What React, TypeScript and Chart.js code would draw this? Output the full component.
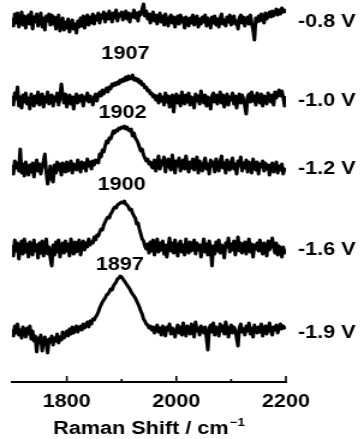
import React, { useEffect, useRef } from "react";
import { Chart, registerables } from "chart.js";

Chart.register(...registerables);

// Raman shift grid (cm^-1)
const SHIFT_START = 1700;
const SHIFT_STEP = 2.5;
const POINTS = 201;
const shifts: number[] = Array.from({ length: POINTS }, (_, i) => SHIFT_START + SHIFT_STEP * i);

// Potentials (series names)
const seriesLabels = ["-0.8 V", "-1.0 V", "-1.2 V", "-1.6 V", "-1.9 V"];

// Intensities (a.u.), one value per grid point
const v08 = [
  3, -5, 7, -2, 8, -6, 1, 9, -4, 5,
  -7, 2, 6, -3, 9, -8, 4, -1, 7, -5,
  2, 8, -6, 3, -9, 5, 0, 7, -4, 6,
  -3, 4, -8, 1, 6, -10, -2, 3, -9, -1,
  -7, 2, -11, -4, 1, -8, -3, -12, 0, -6,
  3, -5, 5, -7, 2, 6, -4, 4, -2, 7,
  -3, 5, 1, 8, -2, 6, 3, 9, -1, 7,
  2, 10, 4, -1, 8, 3, 11, 0, 7, 5,
  9, 1, 6, 10, 2, 8, -1, 7, 4, 11,
  3, 8, 0, 9, 6, 12, 17, 5, 10, 2,
  7, -2, 5, 9, 0, 6, -3, 4, 8, -1,
  5, -4, 7, 1, -5, 3, 6, -2, 4, -6,
  2, 5, -3, 6, -1, 3, -7, 4, 0, -5,
  3, -2, 6, -4, 1, 5, -6, 2, -3, 4,
  -1, 6, -5, 3, 0, -7, 4, -2, 5, -4,
  2, -6, 3, 7, -3, 1, -5, 4, -1, 6,
  -4, 2, 5, -3, 0, -8, 3, 6, -2, 4,
  -5, 1, 4, -3, 6, -2, -9, -19, 3, -1,
  5, 0, 7, 3, -2, 8, 2, 6, 9, 4,
  10, 5, 8, 12, 6, 11, 7, 13, 9, 11,
  8,
];
const v10 = [
  4, -5, 7, 1, 13, -6, 3, -8, 5, -2,
  7, -4, 2, -9, 6, 0, -6, 4, -3, 8,
  -5, 2, 6, -7, 3, -2, 8, -4, 1, 5,
  -6, 3, -1, 7, -5, 2, 16, 4, -3, 6,
  -7, 1, 5, -4, 3, -9, 2, 6, -3, 4,
  -1, 5, -6, 3, 0, 7, -2, 4, 1, -5,
  3, 6, -1, 5, 8, 4, 10, 6, 9, 12,
  8, 13, 11, 16, 14, 17, 15, 18, 16, 20,
  18, 21, 19, 23, 20, 24, 21, 22, 25, 20,
  22, 19, 21, 17, 19, 15, 16, 12, 13, 9,
  10, 6, 7, 3, 5, 0, 4, -3, 6, -1,
  3, -5, 7, -2, 4, -7, 2, 5, -12, 1,
  6, -3, 4, -6, 8, 0, -4, 5, -2, 7,
  -5, 3, 1, -8, 6, -1, 4, -4, 9, 2,
  -3, 5, -6, 3, 0, -9, 4, 7, -2, 5,
  -4, 2, 8, -3, 5, -7, 1, 6, -5, 3,
  0, 7, -4, 4, -8, 2, 6, -3, 5, 1,
  -6, -14, 3, 6, -2, 8, -1, 4, -5, 7,
  2, -3, 6, -6, 4, 1, -4, 7, 3, -2,
  5, -5, 8, 2, 6, 10, 4, 9, 3, -6,
  4,
];
const v12 = [
  3, -6, 7, 0, 5, -3, 19, -5, 4, -8,
  6, -2, -7, 3, -4, 5, -9, 2, 8, -3,
  4, -6, 1, 7, 14, -4, -16, -8, 2, -11,
  -14, 3, -5, 6, -2, 4, -7, 5, 0, -4,
  6, -3, 2, 7, -5, 4, 1, -2, 8, 3,
  -4, 6, 0, 5, -3, 9, 2, 6, -1, 7,
  3, 8, 7, 5, 14, 11, 18, 16, 22, 27,
  25, 30, 29, 33, 37, 35, 38, 37, 40, 39,
  41, 40, 42, 39, 41, 38, 37, 39, 32, 35,
  30, 28, 25, 21, 17, 19, 13, 10, 7, 9,
  4, 6, 1, 0, 8, -3, 5, 12, -1, 7,
  3, 11, -4, 6, 9, 1, -2, 13, 4, -5,
  7, 2, 10, -3, 5, 8, -1, 12, 3, -4,
  6, 0, 9, -2, 4, 11, -5, 7, 2, -3,
  5, 10, -1, 4, -6, 8, 2, 6, -4, 9,
  1, -3, 7, 12, 0, 5, -5, 8, 3, -2,
  6, 10, -1, 4, -6, 7, 2, 11, -3, 5,
  0, 8, -4, 6, 2, -5, 9, 3, -2, 6,
  -6, 4, 1, 7, -3, 5, -1, 3, -7, 2,
  5, -4, 0, 6, -5, 2, -2, 4, -6, -1,
  -3,
];
const v16 = [
  4, -7, 9, -2, 6, -10, 2, 8, -5, 10,
  -3, 5, -8, 7, 1, -6, 9, -2, 4, -9,
  6, -4, 8, -7, 3, 10, -5, 2, -9, -17,
  4, -6, 7, -3, 9, -8, 2, 6, -4, 8,
  -2, 5, -7, 10, 1, -5, 7, -3, 4, 9,
  -6, 3, 8, -1, 6, 2, 10, 4, 7, 6,
  12, 9, 14, 13, 17, 20, 19, 24, 27, 30,
  32, 31, 35, 37, 40, 42, 41, 44, 45, 46,
  47, 46, 48, 45, 44, 42, 39, 40, 36, 33,
  31, 25, 26, 20, 15, 10, 8, 3, 0, 5,
  -4, 7, -2, 9, -6, 3, 10, -3, 6, -1,
  8, -5, 4, -8, 2, 11, -2, 6, -4, 9,
  1, -7, 5, 8, -3, 4, -6, 10, 0, -4,
  7, -2, 3, 9, -5, 6, -1, 4, -8, 2,
  10, -3, 5, -6, 8, 1, -17, 3, -5, 7,
  -2, 9, -4, 4, 0, -9, 6, 2, 11, -3,
  5, -1, 8, -6, 3, 12, -2, 6, -4, 1,
  7, -5, 3, 10, -3, 5, -8, 4, 0, 6,
  -2, 9, 1, -5, 6, 3, -7, 8, -1, 4,
  11, 2, -4, 6, -6, 3, 0, -8, 2, -3,
  -5,
];
const v19 = [
  3, -4, 6, -1, 8, -3, 2, -6, 5, 0,
  -5, 4, -2, 6, -7, 1, -9, -4, -20, -6,
  -11, -3, -19, -8, -5, -12, -21, -7, -10, -4,
  -13, -6, -9, -2, -11, -5, -8, 0, -6, -3,
  1, -4, 3, -2, 5, -1, 2, 6, 0, 4,
  6, 2, 8, 4, 7, 10, 5, 11, 8, 13,
  12, 15, 17, 20, 24, 27, 30, 32, 34, 37,
  38, 40, 43, 42, 46, 48, 50, 53, 54, 56,
  55, 53, 51, 49, 47, 45, 43, 40, 38, 36,
  34, 31, 28, 25, 21, 18, 13, 11, 8, 7,
  4, 6, 2, 5, -1, 3, 7, 0, 4, -3,
  6, 1, -4, 5, 2, 8, -2, 4, 0, -5,
  3, 7, -1, 5, -3, 9, 2, -4, 6, 1,
  -2, 8, 3, -5, 10, 1, 4, -3, 6, 2,
  -1, 5, -6, -18, 4, 7, 0, 9, -3, 5,
  2, -4, 8, 1, 6, -2, 10, 3, -5, 4,
  7, -1, 5, 2, -6, -14, 4, 8, 0, 3,
  -3, 6, 1, 9, -2, 4, -5, 7, 2, -1,
  5, 0, 8, -4, 3, 6, -2, 4, 9, 1,
  -3, 5, 2, 7, -1, 4, 8, 3, 6, 4,
  5,
];
const seriesValues = [v08, v10, v12, v16, v19];

// Vertical stacking offsets of the spectra (a.u.)
const stackOffsets = [361, 282, 214, 133, 50];

// Peak positions annotated (cm^-1) and the spectrum each belongs to
const peakShifts = [1907, 1902, 1900, 1897];
const peakSeries = [1, 2, 3, 4];
const peakLabelGap = [21, 13, 16, 11];

// Axis ticks
const majorTicks = [1800, 2000, 2200];
const minorTicks = [1900, 2100];

const FONT = '"Liberation Sans", Arial, Helvetica, sans-serif';
const W = 303; // internal width, stretched to 364 px on screen
const H = 439;

const annotate = {
  id: "annotate",
  afterDraw(chart: any) {
    const { ctx, chartArea, scales } = chart;
    const x = scales.x;
    const y = scales.y;
    ctx.save();
    ctx.strokeStyle = "#000";
    ctx.fillStyle = "#000";
    ctx.lineWidth = 1.6;
    const ticks = [...majorTicks.map((t) => [t, 6]), ...minorTicks.map((t) => [t, 3])];
    for (const [t, len] of ticks) {
      const px = x.getPixelForValue(t);
      ctx.beginPath();
      ctx.moveTo(px, chartArea.bottom);
      ctx.lineTo(px, chartArea.bottom - len);
      ctx.stroke();
    }
    ctx.font = `bold 18px ${FONT}`;
    ctx.textBaseline = "middle";
    ctx.textAlign = "left";
    seriesLabels.forEach((s, i) => {
      ctx.fillText(s, chartArea.right + 10, y.getPixelForValue(stackOffsets[i]) + 1);
    });
    ctx.textAlign = "center";
    peakShifts.forEach((p, k) => {
      const si = peakSeries[k];
      const top = Math.max(...seriesValues[si]) + stackOffsets[si];
      ctx.fillText(String(p), x.getPixelForValue(p), y.getPixelForValue(top) - peakLabelGap[k]);
    });
    // axis title with superscript
    const main = "Raman Shift / cm";
    const sup = "\u22121";
    ctx.font = `bold 18px ${FONT}`;
    const mw = ctx.measureText(main).width;
    ctx.font = `bold 11px ${FONT}`;
    const sw = ctx.measureText(sup).width;
    const cx = (chartArea.left + chartArea.right) / 2;
    const startX = cx - (mw + sw + 1) / 2;
    ctx.textAlign = "left";
    ctx.textBaseline = "alphabetic";
    ctx.font = `bold 18px ${FONT}`;
    ctx.fillText(main, startX, 434);
    ctx.font = `bold 11px ${FONT}`;
    ctx.fillText(sup, startX + mw + 1, 426);
    ctx.restore();
  },
};

export default function App() {
  const ref = useRef<HTMLCanvasElement | null>(null);
  useEffect(() => {
    document.body.style.margin = "0";
    const canvas = ref.current;
    if (!canvas) return;
    const chart = new Chart(canvas, {
      type: "line",
      data: {
        datasets: seriesValues.map((vals, si) => ({
          label: seriesLabels[si],
          data: shifts.map((s, i) => ({ x: s, y: vals[i] + stackOffsets[si] })),
          borderColor: "#000",
          borderWidth: 3,
          borderJoinStyle: "round",
          pointRadius: 0,
          tension: 0,
          fill: false,
        })),
      },
      options: {
        responsive: false,
        animation: false,
        devicePixelRatio: 1,
        layout: { padding: { left: 10, right: 65, top: 0, bottom: 27 } },
        plugins: { legend: { display: false }, tooltip: { enabled: false } },
        scales: {
          x: {
            type: "linear",
            min: 1700,
            max: 2200,
            grid: { display: false, drawTicks: false },
            border: { display: true, color: "#000", width: 2 },
            afterFit: (scale: any) => {
              scale.height = 30;
            },
            ticks: {
              stepSize: 100,
              autoSkip: false,
              maxRotation: 0,
              padding: 9,
              color: "#000",
              font: { family: FONT, size: 18, weight: "bold" },
              callback: (v: any) => (majorTicks.includes(Number(v)) ? String(v) : ""),
            },
          },
          y: { display: false, min: 0, max: 382 },
        },
      },
      plugins: [annotate],
    });
    return () => chart.destroy();
  }, []);
  return (
    <canvas
      ref={ref}
      width={W}
      height={H}
      style={{ width: "364px", height: "439px", display: "block" }}
    />
  );
}
